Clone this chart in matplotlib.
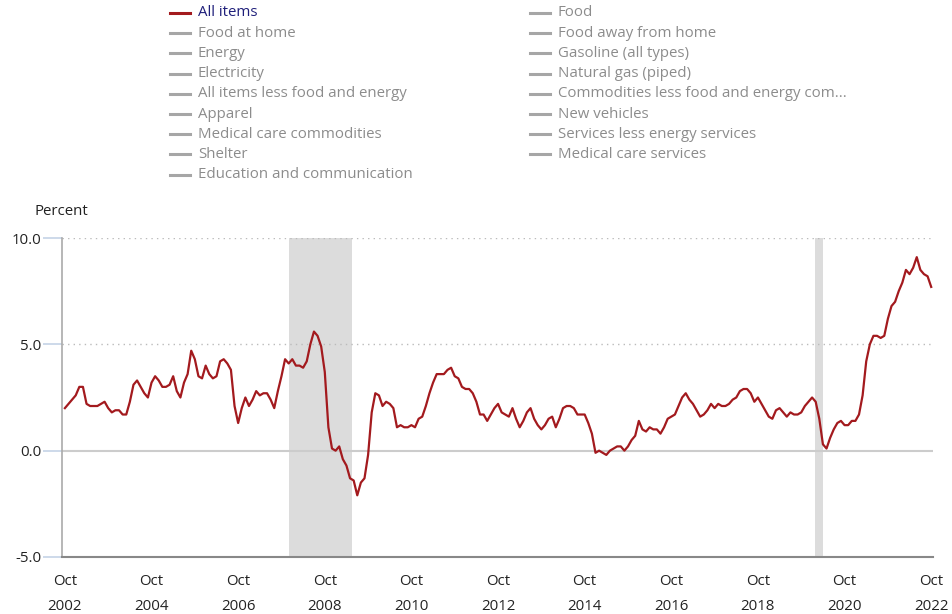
import numpy as np
import matplotlib
matplotlib.use("Agg")
import matplotlib.pyplot as plt
from matplotlib.lines import Line2D

# CPI-U, 12-month percent change, Oct 2002 .. Oct 2022
start_year, start_month = 2002, 10
all_items = [
    2.0, 2.2, 2.4,
    2.6, 3.0, 3.0, 2.2, 2.1, 2.1, 2.1, 2.2, 2.3, 2.0, 1.8, 1.9,
    1.9, 1.7, 1.7, 2.3, 3.1, 3.3, 3.0, 2.7, 2.5, 3.2, 3.5, 3.3,
    3.0, 3.0, 3.1, 3.5, 2.8, 2.5, 3.2, 3.6, 4.7, 4.3, 3.5, 3.4,
    4.0, 3.6, 3.4, 3.5, 4.2, 4.3, 4.1, 3.8, 2.1, 1.3, 2.0, 2.5,
    2.1, 2.4, 2.8, 2.6, 2.7, 2.7, 2.4, 2.0, 2.8, 3.5, 4.3, 4.1,
    4.3, 4.0, 4.0, 3.9, 4.2, 5.0, 5.6, 5.4, 4.9, 3.7, 1.1, 0.1,
    0.0, 0.2, -0.4, -0.7, -1.3, -1.4, -2.1, -1.5, -1.3, -0.2, 1.8, 2.7,
    2.6, 2.1, 2.3, 2.2, 2.0, 1.1, 1.2, 1.1, 1.1, 1.2, 1.1, 1.5,
    1.6, 2.1, 2.7, 3.2, 3.6, 3.6, 3.6, 3.8, 3.9, 3.5, 3.4, 3.0,
    2.9, 2.9, 2.7, 2.3, 1.7, 1.7, 1.4, 1.7, 2.0, 2.2, 1.8, 1.7,
    1.6, 2.0, 1.5, 1.1, 1.4, 1.8, 2.0, 1.5, 1.2, 1.0, 1.2, 1.5,
    1.6, 1.1, 1.5, 2.0, 2.1, 2.1, 2.0, 1.7, 1.7, 1.7, 1.3, 0.8,
    -0.1, 0.0, -0.1, -0.2, 0.0, 0.1, 0.2, 0.2, 0.0, 0.2, 0.5, 0.7,
    1.4, 1.0, 0.9, 1.1, 1.0, 1.0, 0.8, 1.1, 1.5, 1.6, 1.7, 2.1,
    2.5, 2.7, 2.4, 2.2, 1.9, 1.6, 1.7, 1.9, 2.2, 2.0, 2.2, 2.1,
    2.1, 2.2, 2.4, 2.5, 2.8, 2.9, 2.9, 2.7, 2.3, 2.5, 2.2, 1.9,
    1.6, 1.5, 1.9, 2.0, 1.8, 1.6, 1.8, 1.7, 1.7, 1.8, 2.1, 2.3,
    2.5, 2.3, 1.5, 0.3, 0.1, 0.6, 1.0, 1.3, 1.4, 1.2, 1.2, 1.4,
    1.4, 1.7, 2.6, 4.2, 5.0, 5.4, 5.4, 5.3, 5.4, 6.2, 6.8, 7.0,
    7.5, 7.9, 8.5, 8.3, 8.6, 9.1, 8.5, 8.3, 8.2, 7.7,
]

# recessions as (start, end) month indices from Oct 2002
recessions = [(62, 79.5), (207.9, 209.9)]

legend_left = ["All items", "Food at home", "Energy", "Electricity",
               "All items less food and energy", "Apparel",
               "Medical care commodities", "Shelter",
               "Education and communication"]
legend_right = ["Food", "Food away from home", "Gasoline (all types)",
                "Natural gas (piped)",
                "Commodities less food and energy com...", "New vehicles",
                "Services less energy services", "Medical care services"]

yticks = [-5.0, 0.0, 5.0, 10.0]
xtick_idx = list(range(0, 241, 24))
xtick_lbl = ["Oct\n%d" % (2002 + 2 * i) for i in range(len(xtick_idx))]

plt.rcParams['font.family'] = ['Open Sans', 'DejaVu Sans']
fs = 10.8

W, H = 953, 614
fig = plt.figure(figsize=(W / 100, H / 100), dpi=100)
ax = fig.add_axes([62 / W, 1 - 557 / H, (933 - 62) / W, (557 - 238) / H])

x = np.arange(len(all_items))
red = "#a31a1e"

for s, e in recessions:
    ax.axvspan(s, e, color="#dcdcdc", lw=0, zorder=0)

for yv in (5.0, 10.0):
    ax.axhline(yv, color="#bbbbbb", lw=1, ls=(0, (1, 3)), zorder=1)
ax.axhline(0, color="#cccccc", lw=1.5, zorder=1)

ax.plot(x, all_items, color=red, lw=1.6, zorder=3)

ax.set_xlim(-0.8, 240.5)
ax.set_ylim(-5, 10)
ax.set_yticks(yticks)
ax.set_yticklabels(["%.1f" % v for v in yticks], fontsize=fs, color="#222222")
ax.set_xticks(xtick_idx)
ax.set_xticklabels(xtick_lbl, fontsize=fs, color="#222222", linespacing=1.95)
ax.tick_params(axis="y", length=14, color="#c5d3e6", width=1.2, pad=1)
ax.tick_params(axis="x", length=0, pad=12)

for side in ("top", "right"):
    ax.spines[side].set_visible(False)
ax.spines["left"].set_color("#aaaaaa")
ax.spines["left"].set_linewidth(1.2)
ax.spines["bottom"].set_color("#888888")
ax.spines["bottom"].set_linewidth(1.5)

fig.text(35 / W, 1 - 212 / H, "Percent", fontsize=fs, color="#222222",
         ha="left", va="center")

# legend, drawn as two columns
def legend_col(names, x0, first_red=False):
    for i, name in enumerate(names):
        yy = 1 - (13 + 20.2 * i) / H
        is_red = first_red and i == 0
        fig.add_artist(Line2D([x0 / W, (x0 + 20) / W], [yy, yy],
                              color=red if is_red else "#a6a6a6", lw=2.2))
        fig.text((x0 + 28) / W, yy, name, fontsize=fs,
                 color="#1f1f7a" if is_red else "#8c8c8c",
                 ha="left", va="center")

legend_col(legend_left, 170, first_red=True)
legend_col(legend_right, 530)

fig.savefig("out.png", dpi=100)
